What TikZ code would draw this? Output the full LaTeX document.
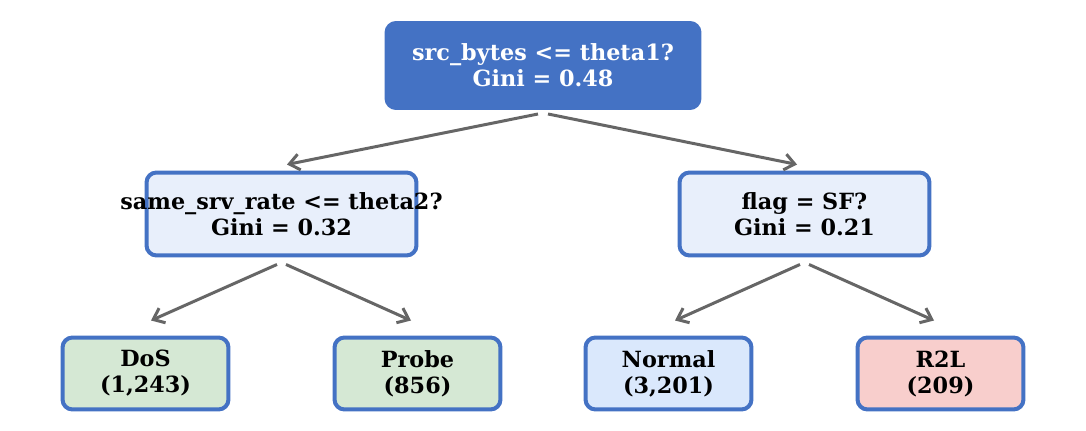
\documentclass[tikz,border=0pt]{standalone}
\usepackage{fontspec}
\setmainfont{DejaVu Serif}
\usetikzlibrary{calc,arrows.meta}

\definecolor{treeblue}{HTML}{4472C4}
\definecolor{splitfill}{HTML}{E8EFFB}
\definecolor{dosfill}{HTML}{D5E8D4}
\definecolor{normalfill}{HTML}{DAE8FC}
\definecolor{rtwolfill}{HTML}{F8CECC}
\definecolor{edgegray}{HTML}{666666}

\begin{document}
\begin{tikzpicture}[x=0.02cm,y=-0.02cm,
  every node/.style={font=\fontsize{12.7}{14.8}\selectfont\bfseries,
                     align=center, inner sep=0pt, rounded corners=0.2cm},
  rootbox/.style={draw=treeblue, fill=treeblue, text=white, line width=0.06cm,
                  minimum width=6.28cm, minimum height=1.72cm},
  splitbox/.style={draw=treeblue, fill=splitfill, line width=0.08cm,
                   minimum height=1.66cm},
  leafbox/.style={draw=treeblue, line width=0.08cm,
                  minimum width=3.32cm, minimum height=1.44cm},
  edge/.style={draw=edgegray, line width=0.06cm,
               -{Straight Barb[length=0.2cm,width=0.32cm]}}]
\useasboundingbox (0,0) rectangle (1086,431);

% tree nodes
\node[rootbox] (root) at (543,65.5)
  {src\_bytes <= theta1?\\Gini = 0.48};
\node[splitbox, minimum width=5.4cm] (same) at (281.5,214)
  {\makebox[0pt]{same\_srv\_rate <= theta2?}\\Gini = 0.32};
\node[splitbox, minimum width=5.0cm] (flag) at (804.5,214)
  {flag = SF?\\Gini = 0.21};
\node[leafbox, fill=dosfill]    (dos)    at (145.5,373.5) {DoS\\(1,243)};
\node[leafbox, fill=dosfill]    (probe)  at (417.5,373.5) {Probe\\(856)};
\node[leafbox, fill=normalfill] (normal) at (668.5,373.5) {Normal\\(3,201)};
\node[leafbox, fill=rtwolfill]  (rtwol)  at (940.5,373.5) {R2L\\(209)};

% branches
\draw[edge] ($(root.south)+(-5,4)$) -- ($(same.north)+(5.5,-6)$);
\draw[edge] ($(root.south)+(5,4)$)  -- ($(flag.north)+(-7.5,-6)$);
\draw[edge] ($(same.south)+(-4.5,7)$) -- ($(dos.north)+(5.5,-15)$);
\draw[edge] ($(same.south)+(4.5,7)$)  -- ($(probe.north)+(-6.5,-15)$);
\draw[edge] ($(flag.south)+(-4.5,7)$) -- ($(normal.north)+(6.5,-15)$);
\draw[edge] ($(flag.south)+(4.5,7)$)  -- ($(rtwol.north)+(-6.5,-15)$);
\end{tikzpicture}
\end{document}
